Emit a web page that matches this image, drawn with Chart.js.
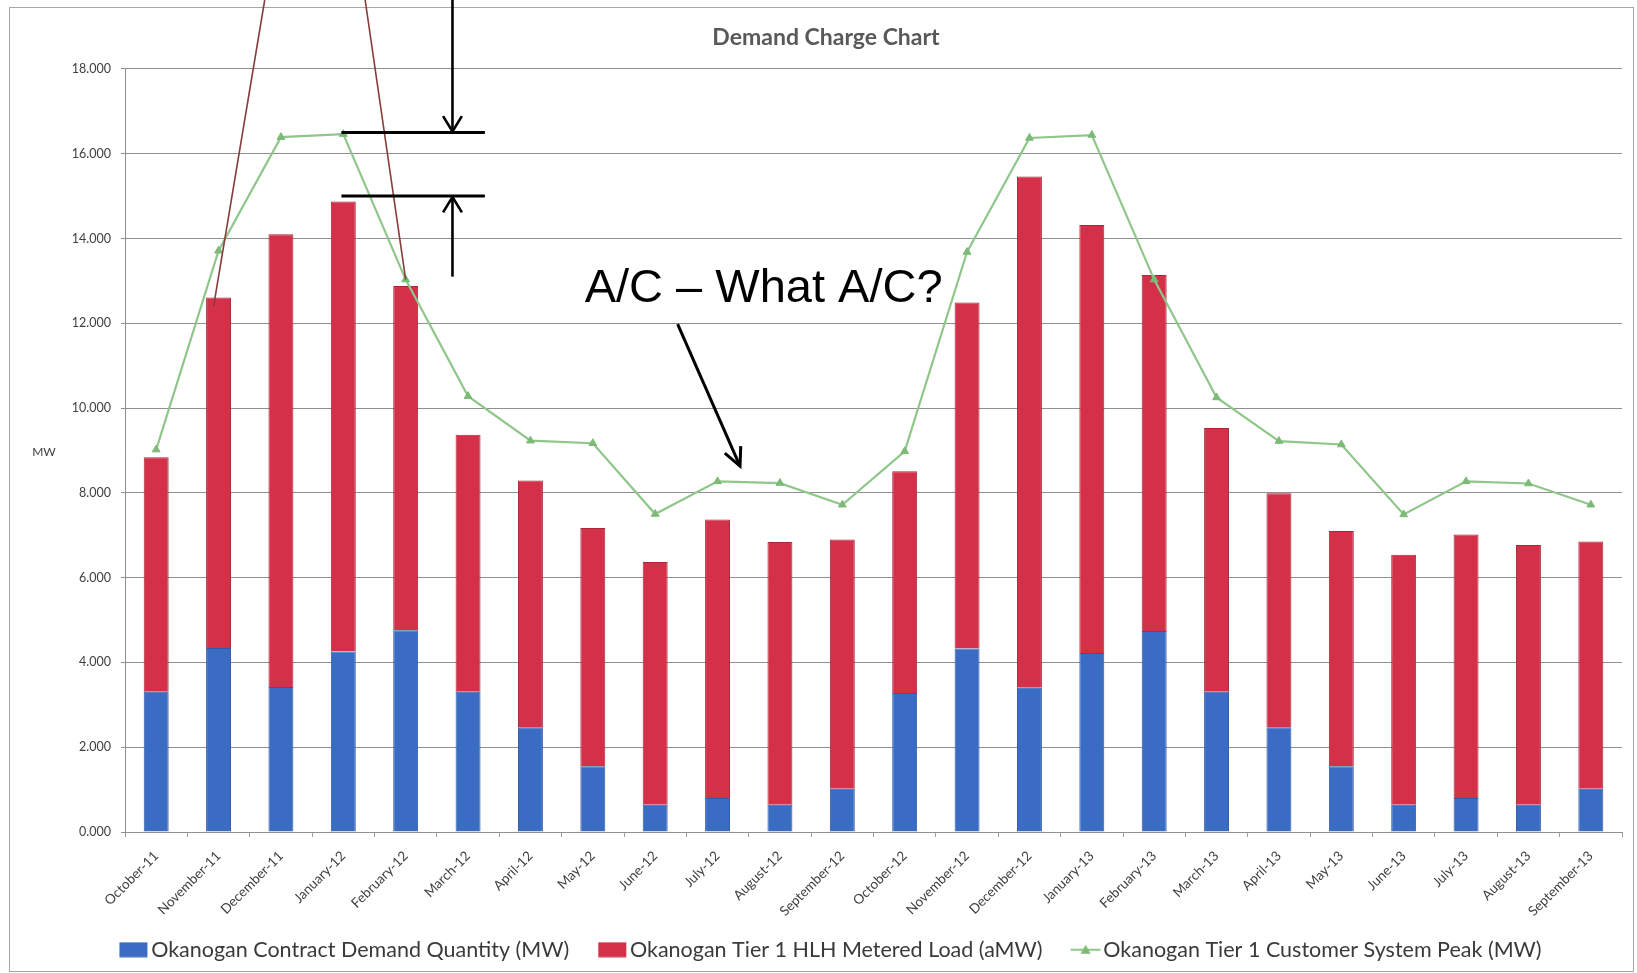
<!DOCTYPE html>
<html>
<head>
<meta charset="utf-8">
<title>Demand Charge Chart</title>
<script src="https://cdn.jsdelivr.net/npm/chart.js@4.4.1/dist/chart.umd.min.js"></script>
<style>
  html, body { margin: 0; padding: 0; background: #ffffff; }
  canvas { display: block; }
</style>
</head>
<body>
<canvas id="chart" width="1637" height="973"></canvas>
<script>
// Billing months, October 2011 through September 2013
const months = [
  'October-11', 'November-11', 'December-11', 'January-12', 'February-12', 'March-12',
  'April-12', 'May-12', 'June-12', 'July-12', 'August-12', 'September-12',
  'October-12', 'November-12', 'December-12', 'January-13', 'February-13', 'March-13',
  'April-13', 'May-13', 'June-13', 'July-13', 'August-13', 'September-13'
];

// Okanogan Contract Demand Quantity (MW) - lower stacked segment
const contractDemand = [
  3.31, 4.34, 3.42, 4.26, 4.76, 3.31, 2.47, 1.55, 0.64, 0.80, 0.64, 1.02,
  3.28, 4.33, 3.40, 4.22, 4.74, 3.31, 2.47, 1.55, 0.64, 0.80, 0.64, 1.02
];

// Okanogan Tier 1 HLH Metered Load (aMW) - upper stacked segment
const hlhMeteredLoad = [
  5.53, 8.27, 10.68, 10.61, 8.12, 6.06, 5.82, 5.62, 5.73, 6.57, 6.20, 5.88,
  5.23, 8.16, 12.06, 10.10, 8.40, 6.22, 5.52, 5.55, 5.90, 6.22, 6.13, 5.83
];

// Okanogan Tier 1 Customer System Peak (MW)
const systemPeak = [
  9.02, 13.71, 16.39, 16.46, 13.03, 10.28, 9.23, 9.17, 7.50, 8.27, 8.23, 7.72,
  8.98, 13.68, 16.37, 16.44, 13.03, 10.25, 9.22, 9.14, 7.49, 8.27, 8.22, 7.72
];

// Value axis ticks
const yTickValues = [0, 2, 4, 6, 8, 10, 12, 14, 16, 18];

const BLUE = '#3b6cc4';
const RED = '#d5304a';
const GREEN = '#8fc68a';
const GREEN_MARK = '#7dba78';
const FONT = 'Lato, "Open Sans", "DejaVu Sans", sans-serif';

// Legend keys (60px wide, key drawn toward the right so it sits next to its text)
function keyCanvas(paint) {
  const c = document.createElement('canvas');
  c.width = 60; c.height = 16;
  paint(c.getContext('2d'));
  return c;
}
const blueKey = keyCanvas(g => { g.fillStyle = BLUE; g.fillRect(24, 0.5, 28, 15); });
const redKey = keyCanvas(g => { g.fillStyle = RED; g.fillRect(24, 0.5, 28, 15); });
const greenKey = keyCanvas(g => {
  g.strokeStyle = GREEN; g.lineWidth = 2;
  g.beginPath(); g.moveTo(23, 8); g.lineTo(53, 8); g.stroke();
  g.fillStyle = GREEN_MARK;
  g.beginPath(); g.moveTo(38, 3); g.lineTo(43, 12); g.lineTo(33, 12); g.closePath(); g.fill();
});
const legendKeys = [blueKey, redKey, greenKey];

// White page with the thin outer chart frame
const frame = {
  id: 'frame',
  beforeDraw(chart) {
    const { ctx, width, height } = chart;
    ctx.save();
    ctx.fillStyle = '#ffffff';
    ctx.fillRect(0, 0, width, height);
    ctx.strokeStyle = '#a6a6a6';
    ctx.lineWidth = 1;
    ctx.strokeRect(9.5, 7.5, 1624, 964);
    ctx.restore();
  }
};

// Horizontal "MW" caption beside the value axis
const unitLabel = {
  id: 'unitLabel',
  afterDraw(chart) {
    const { ctx, chartArea, scales: { y } } = chart;
    ctx.save();
    ctx.font = '12px ' + FONT;
    ctx.fillStyle = '#404040';
    ctx.textAlign = 'center';
    ctx.textBaseline = 'middle';
    ctx.fillText('MW', y.left + 14, (chartArea.top + chartArea.bottom) / 2 + 2);
    ctx.restore();
  }
};

// Hand-drawn markup on top of the chart: pointers, the peak gap bracket and the note
const markup = {
  id: 'markup',
  afterDraw(chart) {
    const { ctx, scales: { x, y } } = chart;
    const X = v => x.getPixelForValue(v);
    const Y = v => y.getPixelForValue(v);
    const seg = (x1, y1, x2, y2) => { ctx.beginPath(); ctx.moveTo(x1, y1); ctx.lineTo(x2, y2); ctx.stroke(); };
    const head = (tx, ty, fx, fy, len, spread) => {
      const a = Math.atan2(ty - fy, tx - fx);
      ctx.beginPath();
      ctx.moveTo(tx - len * Math.cos(a - spread), ty - len * Math.sin(a - spread));
      ctx.lineTo(tx, ty);
      ctx.lineTo(tx - len * Math.cos(a + spread), ty - len * Math.sin(a + spread));
      ctx.stroke();
    };
    ctx.save();

    // two brown pointer lines coming down from the top edge
    ctx.strokeStyle = '#8a3a3a';
    ctx.lineWidth = 1.6;
    seg(X(1.74), 0, X(0.92), Y(12.4));
    seg(X(3.35), 0, X(4), Y(systemPeak[4]));

    // bracket between the winter peak and the stacked load
    ctx.strokeStyle = '#000000';
    ctx.lineWidth = 3;
    ctx.lineCap = 'butt';
    const bx1 = X(2.97), bx2 = X(5.27), ax = X(4.75);
    seg(bx1, Y(16.5), bx2, Y(16.5));
    seg(bx1, Y(15.0), bx2, Y(15.0));
    ctx.lineWidth = 2.6;
    seg(ax, 0, ax, Y(16.5) - 1);
    head(ax, Y(16.5) - 1, ax, 0, 18, 0.55);
    seg(ax, Y(13.1), ax, Y(15.0) + 1);
    head(ax, Y(15.0) + 1, ax, Y(13.1), 18, 0.55);

    // note with an arrow to the summer months
    ctx.fillStyle = '#000000';
    ctx.font = '47px "Liberation Sans", Arial, sans-serif';
    ctx.textAlign = 'left';
    ctx.textBaseline = 'alphabetic';
    ctx.fillText('A/C \u2013 What A/C?', X(6.87), Y(12.5));
    ctx.lineWidth = 3;
    const sx = X(8.36), sy = Y(11.98), tx = X(9.36), ty = Y(8.63);
    seg(sx, sy, tx, ty);
    head(tx, ty, sx, sy, 20, 0.45);

    ctx.restore();
  }
};

new Chart(document.getElementById('chart'), {
  data: {
    labels: months,
    datasets: [
      {
        type: 'line',
        label: 'Okanogan Tier 1 Customer System Peak (MW)',
        data: systemPeak,
        borderColor: GREEN,
        backgroundColor: GREEN_MARK,
        borderWidth: 2.2,
        tension: 0,
        pointStyle: 'triangle',
        pointRadius: 4.5,
        pointBackgroundColor: GREEN_MARK,
        pointBorderColor: GREEN_MARK,
        pointBorderWidth: 1,
        order: 0
      },
      {
        type: 'bar',
        label: 'Okanogan Contract Demand Quantity (MW)',
        data: contractDemand,
        backgroundColor: BLUE,
        borderColor: '#2f58a6',
        borderWidth: 1,
        stack: 'load',
        order: 1
      },
      {
        type: 'bar',
        label: 'Okanogan Tier 1 HLH Metered Load (aMW)',
        data: hlhMeteredLoad,
        backgroundColor: RED,
        borderColor: '#a82739',
        borderWidth: 1,
        stack: 'load',
        order: 1
      }
    ]
  },
  options: {
    responsive: false,
    animation: false,
    devicePixelRatio: 1,
    layout: { padding: { top: 0, left: 30, right: 15, bottom: 2.5 } },
    datasets: {
      bar: { categoryPercentage: 1.0, barPercentage: 0.4 }
    },
    plugins: {
      title: {
        display: true,
        text: 'Demand Charge Chart',
        color: '#595959',
        font: { family: FONT, size: 23, weight: 'bold', lineHeight: 1.2 },
        padding: { top: 24, bottom: 17.3 }
      },
      legend: {
        position: 'bottom',
        labels: {
          color: '#3a3a3a',
          font: { family: FONT, size: 21.5 },
          usePointStyle: true,
          pointStyleWidth: 30,
          boxHeight: 15,
          padding: 20,
          generateLabels(chart) {
            const items = Chart.defaults.plugins.legend.labels.generateLabels(chart);
            const byLabel = {};
            items.forEach(it => { byLabel[it.text] = it; });
            const order = [
              'Okanogan Contract Demand Quantity (MW)',
              'Okanogan Tier 1 HLH Metered Load (aMW)',
              'Okanogan Tier 1 Customer System Peak (MW)'
            ];
            return order.map((t, i) => Object.assign(byLabel[t], { pointStyle: legendKeys[i], fontColor: '#3a3a3a' }));
          }
        }
      },
      tooltip: { enabled: false }
    },
    scales: {
      x: {
        stacked: true,
        offset: true,
        grid: { display: true, drawOnChartArea: false, drawTicks: true, tickLength: 5, color: '#9a9a9a', offset: true },
        border: { display: true, color: '#8f8f8f' },
        ticks: {
          autoSkip: false,
          minRotation: 45,
          maxRotation: 45,
          padding: 11,
          color: '#404040',
          font: { family: FONT, size: 13.5 }
        },
        afterFit(scale) { scale.height = 87; }
      },
      y: {
        stacked: true,
        min: 0,
        max: 18,
        afterBuildTicks(scale) { scale.ticks = yTickValues.map(v => ({ value: v })); },
        grid: { color: '#8f8f8f', lineWidth: 1, tickLength: 4 },
        border: { display: true, color: '#8f8f8f' },
        ticks: {
          padding: 10,
          color: '#404040',
          font: { family: FONT, size: 12.5 },
          callback: v => Number(v).toFixed(3)
        },
        afterFit(scale) { scale.width = 95; }
      }
    }
  },
  plugins: [frame, unitLabel, markup]
});
</script>
</body>
</html>
